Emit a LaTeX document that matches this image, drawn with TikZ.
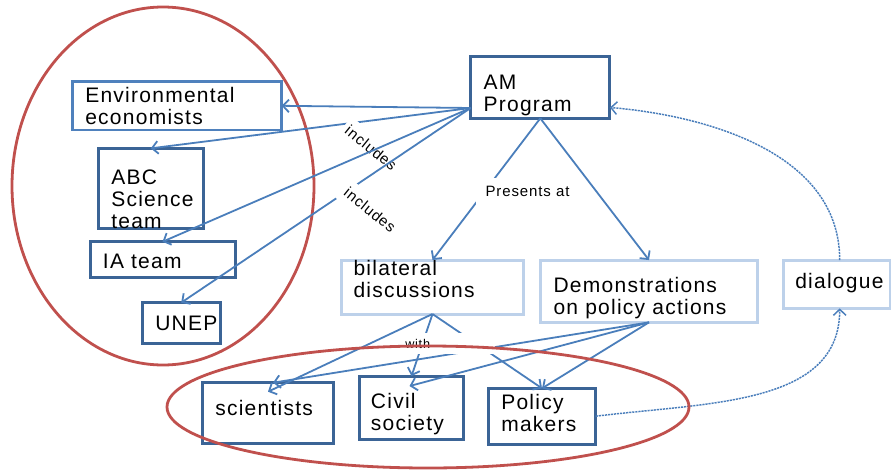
\documentclass[tikz,border=0pt]{standalone}
\usepackage{fontspec}
\setmainfont[LetterSpace=6]{Liberation Sans}
\usetikzlibrary{arrows.meta,calc}
\definecolor{linkblue}{RGB}{74,126,187}
\definecolor{darkedge}{RGB}{59,100,150}
\definecolor{midedge}{RGB}{79,129,189}
\definecolor{paleedge}{RGB}{189,209,234}
\definecolor{groupred}{RGB}{192,80,77}

\begin{document}
\begin{tikzpicture}[x=0.75pt,y=-0.75pt,
  wh/.style 2 args={minimum width=#1*0.75pt, minimum height=#2*0.75pt},
  box/.style={rectangle, inner sep=0pt, outer sep=0pt, fill=white},
  darkbox/.style={box, draw=darkedge, line width=2.25pt},
  midbox/.style={box, draw=midedge, line width=1.9pt},
  palebox/.style={box, draw=paleedge, line width=2.25pt},
  % texts are placed by the baseline of their last line
  txt/.style={anchor=base west, align=left, inner sep=0pt,
    font=\fontsize{15.75}{16.5}\selectfont},
  link/.style={draw=linkblue, line width=1.35pt,
    -{Straight Barb[length=4.5pt,width=9.5pt]}},
  loopback/.style={draw=linkblue, line width=1.1pt, dash pattern=on 1.6pt off 0.7pt,
    -{Straight Barb[length=4.5pt,width=9.5pt]}},
  tag/.style={fill=white, font=\fontsize{11.25}{13}\selectfont},
  withtag/.style={fill=white, align=left, text width=62.25pt, inner xsep=5.25pt,
    inner ysep=0pt, minimum height=15.75pt, font=\fontsize{9.5}{11}\selectfont},
  group/.style={draw=groupred, line width=2.1pt}
]
\useasboundingbox (0,0) rectangle (891,471);

% left grouping ring
\draw[group] (163,186) ellipse [x radius=151, y radius=179];

% boxes
\node[midbox, wh={209}{48.3}] (ee) at (177.2,105.8) {};
\node[darkbox, wh={105}{79.7}] (abc) at (150.8,188.2) {};
\node[darkbox, wh={145}{35.5}] (ia) at (162.5,259.5) {};
\node[darkbox, wh={77.7}{41.3}] (unep) at (181.2,323.3) {};
\node[darkbox, wh={139.3}{61.6}] (am) at (540.3,87.5) {};
\node[palebox, wh={181.6}{54}] (bil) at (432.5,287) {};
\node[palebox, wh={216.6}{62.3}] (demo) at (649,291.2) {};
\node[palebox, wh={106.7}{48.3}] (dia) at (836.7,284.2) {};
\node[darkbox, wh={130.6}{60.6}] (sci) at (268,413) {};
\node[darkbox, wh={104.3}{63.3}] (civ) at (411.5,407.7) {};
\node[darkbox, wh={107.4}{55.7}] (pol) at (542,416.2) {};

% box texts
\node[txt] (ee-t) at (85,124.7) {Environmental\\economists};
\node[txt] (abc-t) at (111,228) {ABC\\Science\\team};
\node[txt] (ia-t) at (102.7,268.3) {IA team};
\node[txt] (unep-t) at (155,330.7) {UNEP};
\node[txt] (am-t) at (483.3,111) {AM\\Program};
\node[txt] (bil-t) at (353.3,297.3) {bilateral\\discussions};
\node[txt] (demo-t) at (553.3,314) {Demonstrations\\on policy actions};
\node[txt] (dia-t) at (795,288.3) {dialogue};
\node[txt] (sci-t) at (215,415) {scientists};
\node[txt] (civ-t) at (370.7,430.7) {Civil\\society};
\node[txt] (pol-t) at (501,431.7) {Policy\\makers};

% program members
\coordinate (amL) at ($(am.west)+(0,20.5)$);
\draw[link] (amL) -- (ee.east);
\draw[link] (amL) -- (abc.north);
\node[tag, rotate=-39, inner xsep=3pt, inner ysep=5pt] (inc1) at (371,148) {includes};
\draw[link] (amL) -- (ia.north);
\draw[link] (amL) -- (unep.north);
\node[tag, rotate=-39, inner xsep=3pt, inner ysep=5pt] (inc2) at (370,210) {includes};

% presentations
\draw[link] (am.south) -- (bil.north);
\draw[link] (am.south) -- (demo.north);
\node[tag, anchor=base, inner xsep=7.5pt, inner ysep=6pt] (pres) at (527.5,196.7) {Presents at};

% audiences
\draw[link] (bil.south) -- ($(sci.north)+(0,9)$);
\draw[link] (bil.south) -- (civ.north);
\draw[link] (bil.south) -- (pol.north);
\draw[link] (demo.south) -- ($(sci.north)+(5,0)$);
\draw[link] (demo.south) -- ($(civ.north)+(-2,10)$);
\draw[link] (demo.south) -- (pol.north);
\node[withtag, anchor=north west] (with) at (398,333) {with};

% feedback loop
\draw[loopback] (pol.east) .. controls +(114,-14) and +(0,97) .. ($(dia.south)+(3,0)$);
\draw[loopback] ($(dia.north)+(3,0)$) .. controls +(0,-110) and +(90,7.5) .. ($(am.east)+(0,20)$);

% stakeholder grouping ring
\draw[group] (428,407) ellipse [x radius=261, y radius=61];
\end{tikzpicture}
\end{document}
